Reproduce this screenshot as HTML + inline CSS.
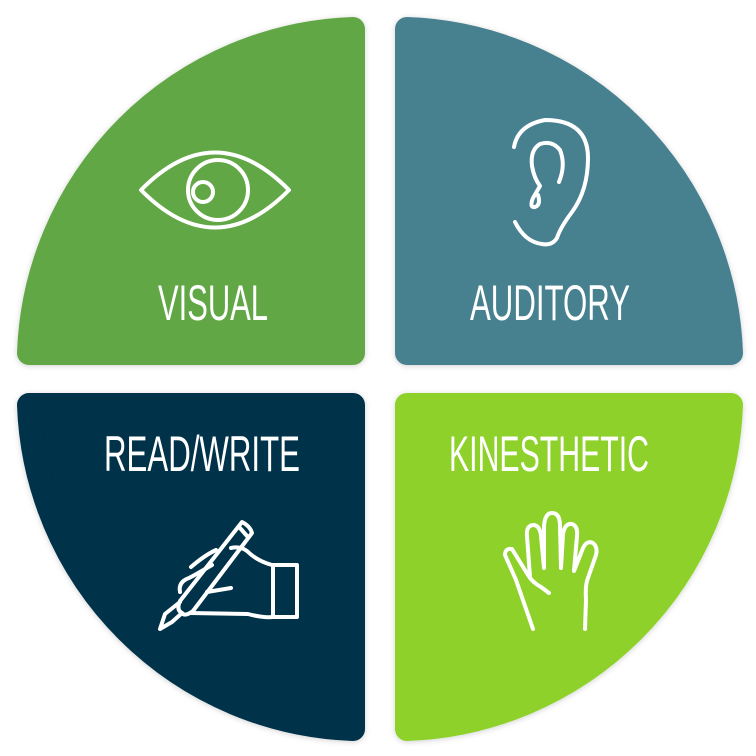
<!DOCTYPE html>
<html><head><meta charset="utf-8"><style>
html,body{margin:0;padding:0;background:#fff;}
svg{display:block}
text{font-family:"Liberation Sans",sans-serif;fill:#fff;font-size:50px;}
</style></head><body>
<svg width="756" height="756" viewBox="0 0 756 756">
<defs>
<filter id="sh" x="-10%" y="-10%" width="120%" height="120%">
<feDropShadow dx="0" dy="1" stdDeviation="3" flood-color="#000" flood-opacity="0.18"/>
</filter>
</defs>
<g filter="url(#sh)" stroke-width="24" stroke-linejoin="round">
<path d="M353,353 L29,353 A336,336 0 0 1 353,29 Z" fill="#62a744" stroke="#62a744"/>
<path d="M407,353 L407,29 A336,336 0 0 1 731,353 Z" fill="#47808f" stroke="#47808f"/>
<path d="M353,405 L353,729 A336,336 0 0 1 29,405 Z" fill="#023048" stroke="#023048"/>
<path d="M407,405 L731,405 A336,336 0 0 1 407,729 Z" fill="#8dd12a" stroke="#8dd12a"/>
</g>
<text x="158" y="320" textLength="110" lengthAdjust="spacingAndGlyphs">VISUAL</text>
<text x="470" y="320" textLength="160" lengthAdjust="spacingAndGlyphs">AUDITORY</text>
<text x="104" y="471" textLength="196" lengthAdjust="spacingAndGlyphs">READ/WRITE</text>
<text x="449" y="471" textLength="200" lengthAdjust="spacingAndGlyphs">KINESTHETIC</text>
<g fill="none" stroke="#fff" stroke-width="4" stroke-linecap="round" stroke-linejoin="round">
<!-- eye -->
<path d="M141,190 Q215,115 289,190 Q215,265 141,190 Z"/>
<circle cx="218" cy="190" r="30"/>
<circle cx="203" cy="192" r="10"/>
<!-- ear -->
<path d="M514,147 Q518,125 545,120 Q588,120 588,158 Q588,190 572,212 Q560,228 557,238 Q552,246 542,244 Q525,242 515,222"/>
<path d="M559,182 Q566,165 560,150 Q552,140 540,144 Q530,150 532,166 Q534,178 540,186 L533,198 Q529,208 535,207 Q541,205 538,195"/>
<!-- hand -->
<path d="M533,629 Q523,600 516,580 L505,555 Q505,548 512,549 L528,575 Q532,582 541,587 L549,593 M530,577 L527,536 Q526,525 534,525 Q540,526 541,536 L544,568 L544,526 Q545,513 552,513 Q560,513 560,526 L561,568 L563,534 Q565,523 572,524 Q578,526 577,536 L574,571 L583,548 Q587,540 593,543 Q598,547 596,555 L588,578 Q585,585 586,600 L585,629"/>
<!-- writing hand -->
<path d="M242,522 Q250,526 252,533 L193,611 Q185,617 182,613 Q176,610 180,601 Z"/>
<path d="M240,528 L247,536"/>
<path d="M180,602 L165,614 L160,629 L172,622 L182,613"/>
<path d="M212,565 Q195,575 189,578 Q178,582 180,592"/>
<path d="M231,548 Q240,546 247,551 Q257,561 272,565 L297,565 L297,617 L273,617 Q263,618 248,614 L190,613"/>
<path d="M273,565 L273,617"/>
<path d="M207,592 L231,588"/>
<path d="M216,550 Q205,555 191,567"/>
</g>
</svg>
</body></html>
